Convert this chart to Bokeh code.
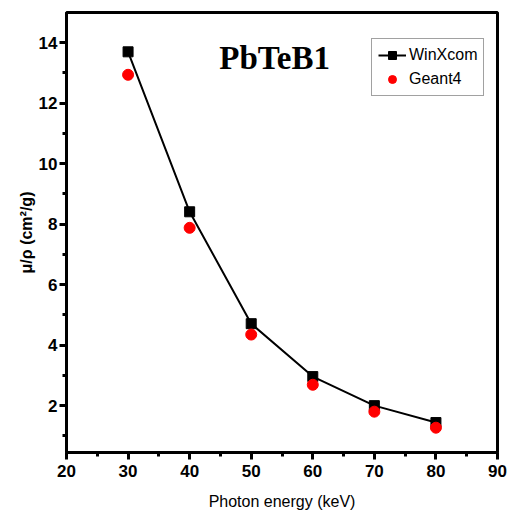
from bokeh.plotting import figure
from bokeh.models import FixedTicker, Range1d, Legend, LegendItem, Label
from bokeh.embed import file_html
from bokeh.resources import INLINE

energy = [30, 40, 50, 60, 70, 80]
winxcom = [13.70, 8.41, 4.71, 2.96, 2.00, 1.44]
geant4 = [12.94, 7.88, 4.35, 2.69, 1.80, 1.27]
x_ticks = [20, 30, 40, 50, 60, 70, 80, 90]
y_ticks = [2, 4, 6, 8, 10, 12, 14]

p = figure(width=511, height=522, output_backend="svg", toolbar_location=None,
           x_range=Range1d(20, 90), y_range=Range1d(0.45, 15.0),
           min_border_left=66, min_border_right=14, min_border_top=12, min_border_bottom=70)
p.xgrid.visible = False
p.ygrid.visible = False
p.outline_line_color = "black"
p.outline_line_width = 3
p.outline_line_alpha = 1.0
p.background_fill_color = "white"
p.border_fill_color = "white"

p.xaxis.ticker = FixedTicker(ticks=x_ticks, minor_ticks=[25, 35, 45, 55, 65, 75, 85])
p.yaxis.ticker = FixedTicker(ticks=y_ticks, minor_ticks=[1, 3, 5, 7, 9, 11, 13])

for ax in (p.xaxis[0], p.yaxis[0]):
    ax.axis_line_width = 3
    ax.axis_line_color = "black"
    ax.major_tick_line_width = 3
    ax.minor_tick_line_width = 3
    ax.major_tick_line_color = "black"
    ax.minor_tick_line_color = "black"
    ax.major_tick_out = 7
    ax.major_tick_in = 0
    ax.minor_tick_out = 4
    ax.minor_tick_in = 0
    ax.major_label_text_font = "Liberation Sans"
    ax.major_label_text_font_style = "bold"
    ax.major_label_text_font_size = "17px"
    ax.major_label_text_color = "black"
    ax.axis_label_text_color = "black"

p.xaxis.axis_label = "Photon energy (keV)"
p.xaxis.axis_label_text_font = "Liberation Sans"
p.xaxis.axis_label_text_font_style = "normal"
p.xaxis.axis_label_text_font_size = "16px"
p.xaxis.axis_label_standoff = 13
p.xaxis.major_label_standoff = 5

p.yaxis.axis_label = "μ/ρ (cm²/g)"
p.yaxis.axis_label_text_font = "Liberation Sans"
p.yaxis.axis_label_text_font_style = "bold"
p.yaxis.axis_label_text_font_size = "16px"
p.yaxis.axis_label_standoff = 1
p.yaxis.major_label_standoff = 2

ln = p.line(energy, winxcom, line_color="black", line_width=2)
sq = p.scatter(energy, winxcom, marker="square", size=10, fill_color="black", line_color="black")
ci = p.scatter(energy, geant4, marker="circle", size=11, fill_color="red", line_color="red")

legend = Legend(items=[LegendItem(label="WinXcom", renderers=[ln, sq]),
                       LegendItem(label="Geant4", renderers=[ci])],
                location=(305, 356))
legend.border_line_color = "#444444"
legend.border_line_width = 1
legend.label_text_font = "Liberation Sans"
legend.label_text_font_size = "16px"
legend.label_text_color = "black"
legend.glyph_width = 28
legend.glyph_height = 20
legend.label_height = 20
legend.spacing = 4
legend.padding = 6
legend.margin = 0
legend.label_standoff = 3
p.add_layout(legend)

p.add_layout(Label(x=53.8, y=13.5, text="PbTeB1", text_font="Liberation Serif",
                   text_font_style="bold", text_font_size="33px", text_color="black",
                   text_align="center", text_baseline="middle"))

open("out.html", "w").write(file_html(p, INLINE))
